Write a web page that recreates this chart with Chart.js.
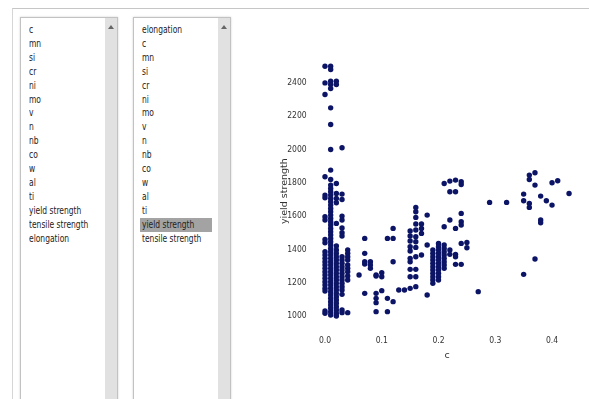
<!DOCTYPE html>
<html>
<head>
<meta charset="utf-8">
<script src="https://cdn.jsdelivr.net/npm/chart.js@4.4.1/dist/chart.umd.min.js"></script>
<style>
body { margin: 0; width: 589px; height: 399px; overflow: hidden; background: #fff; position: relative; }
#frame { position: absolute; left: 12px; top: 8px; right: 0; bottom: 0; border-top: 1px solid #c6c6c6; border-left: 1px solid #d6d6d6; }
.list { position: absolute; top: 17px; width: 96px; height: 400px; border: 1px solid #c2c2c2; box-shadow: 0 0 2px #d0d0d0; background: #fff; }
#list1 { left: 20px; }
#list2 { left: 133px; }
.list ul { list-style: none; margin: 0; padding: 5px 0 0 6px; font-family: "Liberation Sans Narrow", "DejaVu Sans Condensed", "Liberation Sans", Arial, sans-serif; font-size: 10.5px; line-height: 13.9px; color: #222; }
.list li { width: 70px; padding-left: 2px; white-space: nowrap; }
.list li span { display: inline-block; transform: scaleX(0.8); transform-origin: 0 50%; }
.list li.sel { background: #a3a3a3; }
.scroll { position: absolute; right: 0; top: 0; bottom: 0; width: 12px; background: #e1e1e1; }
.scroll::before { content: ""; position: absolute; left: 3px; top: 7px; border-left: 3px solid transparent; border-right: 3px solid transparent; border-bottom: 4px solid #666; }
#chartBox { position: absolute; left: 270px; top: 0; width: 319px; height: 399px; }
</style>
</head>
<body>
<div id="frame"></div>
<div class="list" id="list1"><ul id="ul1"></ul><div class="scroll"></div></div>
<div class="list" id="list2"><ul id="ul2"></ul><div class="scroll"></div></div>
<div id="chartBox"><canvas id="scatterChart"></canvas></div>

<script>
// listas de variables
const leftVars = ['c', 'mn', 'si', 'cr', 'ni', 'mo', 'v', 'n', 'nb', 'co', 'w', 'al', 'ti', 'yield strength', 'tensile strength', 'elongation'];
const rightVars = ['elongation', 'c', 'mn', 'si', 'cr', 'ni', 'mo', 'v', 'n', 'nb', 'co', 'w', 'al', 'ti', 'yield strength', 'tensile strength'];
const selectedVar = 'yield strength';

// contenido de carbono (eje x) y limite elastico de cada muestra con ese contenido
const cLevels = [0.00, 0.01, 0.02, 0.03, 0.04, 0.06, 0.07, 0.08, 0.09, 0.10, 0.11, 0.12, 0.13, 0.14, 0.15, 0.16, 0.17, 0.18, 0.19, 0.20, 0.21, 0.22, 0.23, 0.24, 0.25, 0.27, 0.29, 0.32, 0.35, 0.36, 0.37, 0.38, 0.39, 0.40, 0.41, 0.43];
const yieldGroups = [
    [2500, 2400, 2330, 1836, 1726, 1710, 1596, 1576, 1460, 1440, 1386, 1366, 1346, 1326, 1306, 1286, 1266, 1246, 1226, 1206, 1186, 1166, 1150, 1030, 1016],
    [2500, 2480, 2410, 2390, 2366, 2250, 2150, 2000, 1876, 1820, 1786, 1766, 1746, 1726, 1706, 1686, 1666, 1646, 1626, 1606, 1586, 1566, 1546, 1526, 1506, 1486, 1466, 1446, 1426, 1406, 1386, 1366, 1346, 1326, 1306, 1286, 1266, 1246, 1226, 1206, 1186, 1166, 1146, 1126, 1106, 1086, 1066, 1046, 1026, 1006],
    [2410, 2390, 1796, 1736, 1706, 1680, 1556, 1420, 1396, 1376, 1356, 1336, 1316, 1296, 1276, 1256, 1236, 1216, 1196, 1176, 1156, 1136, 1116, 1096, 1076, 1056, 1036, 1016, 1000],
    [2010, 1732, 1700, 1600, 1576, 1528, 1500, 1480, 1356, 1336, 1316, 1296, 1276, 1256, 1236, 1216, 1196, 1176, 1156, 1130, 1036, 1020],
    [1396, 1376, 1356, 1336, 1306, 1286, 1266, 1240, 1216, 1020],
    [1246],
    [1466, 1376, 1326, 1312, 1136],
    [1326, 1306, 1286],
    [1246, 1240, 1136, 1106, 1080, 1026],
    [1260, 1236, 1152],
    [1466, 1106, 1026],
    [1526, 1466, 1326, 1086],
    [1156],
    [1156],
    [1510, 1480, 1450, 1416, 1390, 1346, 1326, 1280, 1236, 1166],
    [1652, 1626, 1592, 1552, 1516, 1476, 1446, 1412, 1356, 1280, 1236, 1176],
    [1552, 1526, 1496, 1366],
    [1606, 1426, 1126],
    [1396, 1376, 1356, 1336, 1316, 1296, 1276, 1256, 1236, 1216, 1196],
    [1436, 1416, 1396, 1376, 1356, 1336, 1316, 1296, 1276, 1256, 1236, 1216],
    [1796, 1536, 1426, 1406, 1386, 1366, 1346, 1326, 1306, 1286],
    [1810, 1746, 1576, 1396, 1370],
    [1816, 1746, 1526, 1370, 1356, 1310],
    [1806, 1790, 1616, 1566, 1546, 1436, 1310],
    [1442, 1410],
    [1146],
    [1682],
    [1682],
    [1732, 1692, 1250],
    [1846, 1820, 1676, 1652],
    [1860, 1786, 1342],
    [1720, 1576, 1560],
    [1692],
    [1800, 1666],
    [1812],
    [1736]
];

// marcas de los ejes
const xTickValues = [0.0, 0.1, 0.2, 0.3, 0.4];
const yTickValues = [1000, 1200, 1400, 1600, 1800, 2000, 2200, 2400];

// rellenar las listas
function fillList(id, items) {
    const ul = document.getElementById(id);
    items.forEach(name => {
        const li = document.createElement('li');
        const span = document.createElement('span');
        span.textContent = name;
        li.appendChild(span);
        if (id === 'ul2' && name === selectedVar) li.className = 'sel';
        ul.appendChild(li);
    });
}
fillList('ul1', leftVars);
fillList('ul2', rightVars);

// puntos del grafico
const points = [];
cLevels.forEach((c, i) => {
    yieldGroups[i].forEach(y => points.push({ x: c, y: y }));
});

const tickFont = { family: '"Liberation Sans Narrow", "DejaVu Sans Condensed", "Liberation Sans", Arial, sans-serif', size: 8.5 };

const ctx = document.getElementById('scatterChart').getContext('2d');
new Chart(ctx, {
    type: 'scatter',
    data: {
        datasets: [{
            data: points,
            backgroundColor: '#0c1466',
            borderWidth: 0,
            pointRadius: 2.7
        }]
    },
    options: {
        responsive: true,
        maintainAspectRatio: false,
        animation: false,
        layout: { padding: { left: 9, right: 8.6, top: 57.9, bottom: 0 } },
        plugins: {
            legend: { display: false },
            tooltip: { enabled: false }
        },
        scales: {
            x: {
                type: 'linear',
                min: -0.02,
                max: 0.45,
                border: { display: false },
                grid: { display: false, drawTicks: false },
                afterBuildTicks: scale => { scale.ticks = xTickValues.map(v => ({ value: v })); },
                afterFit: scale => { scale.height = 74.7; },
                ticks: {
                    padding: 11,
                    color: '#333',
                    font: tickFont,
                    callback: v => Number(v).toFixed(1)
                },
                title: {
                    display: true,
                    text: 'c',
                    color: '#333',
                    font: { family: '"DejaVu Sans", sans-serif', size: 9.5 },
                    padding: { top: 0, bottom: 38 }
                }
            },
            y: {
                type: 'linear',
                min: 950,
                max: 2550,
                border: { display: false },
                grid: { display: false, drawTicks: false },
                afterBuildTicks: scale => { scale.ticks = yTickValues.map(v => ({ value: v })); },
                afterFit: scale => { scale.width = 34.65; },
                ticks: {
                    padding: 7,
                    color: '#333',
                    font: tickFont,
                    callback: v => String(v)
                },
                title: {
                    display: true,
                    text: 'yield strength',
                    color: '#333',
                    font: { family: '"DejaVu Sans", sans-serif', size: 9.5 },
                    padding: 0
                }
            }
        }
    }
});
</script>
</body>
</html>
